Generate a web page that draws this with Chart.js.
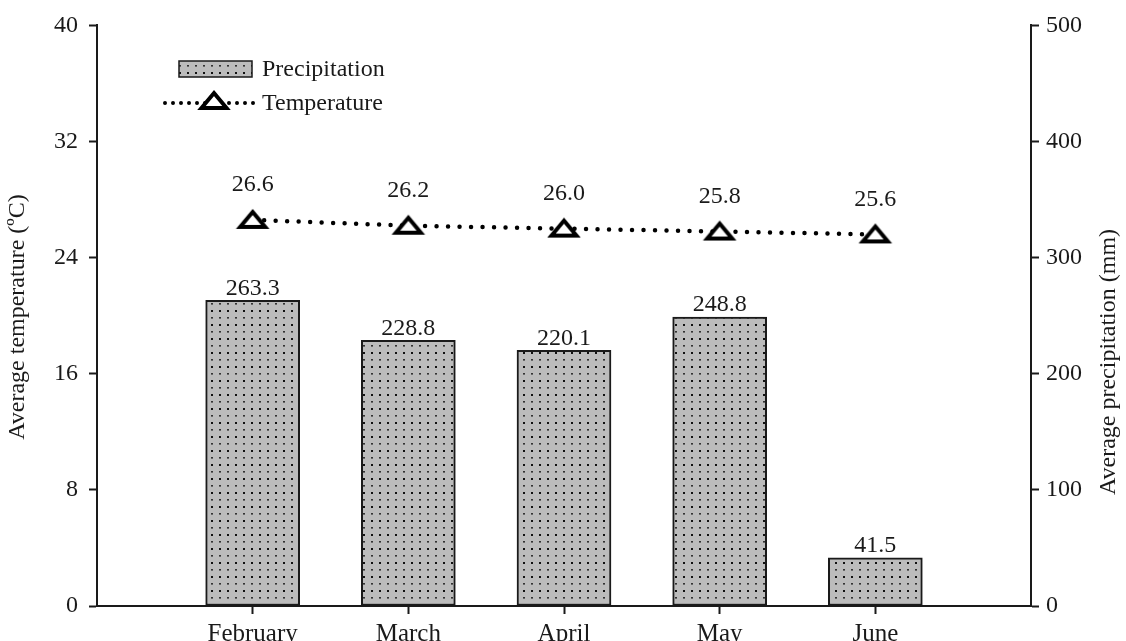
<!DOCTYPE html>
<html>
<head>
<meta charset="utf-8">
<script src="https://cdn.jsdelivr.net/npm/chart.js@4.4.1/dist/chart.umd.min.js"></script>
<style>
  html, body { margin: 0; padding: 0; background: #ffffff; }
  canvas { display: block; }
</style>
</head>
<body>
<canvas id="climate" width="1126" height="641"></canvas>
<script>
// Monthly climate record: empty slots at both ends keep the months off the axes
const months = ['', 'February', 'March', 'April', 'May', 'June', ''];
const precipitation = [null, 263.3, 228.8, 220.1, 248.8, 41.5, null];   // mm
const temperature = [null, 26.6, 26.2, 26.0, 25.8, 25.6, null];         // °C
const temperatureTicks = { min: 0, max: 40, step: 8 };
const precipitationTicks = { min: 0, max: 500, step: 100 };

const FONT = "'Liberation Serif', 'Times New Roman', serif";
const INK = '#1a1a1a';

// Grey fill with a sparse dot screen for the precipitation bars
function dotPattern() {
  const c = document.createElement('canvas');
  c.width = 8; c.height = 14;
  const g = c.getContext('2d');
  g.fillStyle = '#bcbcbc';
  g.fillRect(0, 0, 8, 14);
  g.fillStyle = '#111111';
  g.fillRect(3, 2, 2, 2);
  g.fillStyle = '#333333';
  g.fillRect(3, 9, 2, 1.6);
  return g.createPattern(c, 'repeat');
}

// Open, slightly flattened triangle marker
function triangleMarker() {
  const c = document.createElement('canvas');
  c.width = 36; c.height = 26;
  const g = c.getContext('2d');
  g.beginPath();
  g.moveTo(18, 5);
  g.lineTo(30.5, 20);
  g.lineTo(5.5, 20);
  g.closePath();
  g.fillStyle = '#ffffff';
  g.fill();
  g.lineWidth = 4;
  g.lineJoin = 'miter';
  g.strokeStyle = '#000000';
  g.stroke();
  return c;
}

const barFill = dotPattern();
const marker = triangleMarker();

// Value labels above every bar and point, plus legend and axis titles
const annotate = {
  id: 'annotate',
  afterDatasetsDraw(chart) {
    const ctx = chart.ctx;
    ctx.save();
    ctx.fillStyle = INK;
    ctx.font = '24px ' + FONT;
    ctx.textAlign = 'center';
    ctx.textBaseline = 'middle';

    chart.data.datasets.forEach((ds, i) => {
      const meta = chart.getDatasetMeta(i);
      const lift = ds.type === 'line' ? 35 : 12;
      meta.data.forEach((el, j) => {
        const v = ds.data[j];
        if (v === null || v === undefined) return;
        ctx.fillText(v.toFixed(1), el.x, el.y - lift);
      });
    });

    // legend
    ctx.textAlign = 'left';
    ctx.fillStyle = barFill;
    ctx.fillRect(179, 61, 73, 16);
    ctx.lineWidth = 1.5;
    ctx.strokeStyle = INK;
    ctx.strokeRect(179, 61, 73, 16);
    ctx.fillStyle = INK;
    ctx.fillText('Precipitation', 262, 70);

    ctx.beginPath();
    ctx.setLineDash([0, 8]);
    ctx.lineCap = 'round';
    ctx.lineWidth = 4;
    ctx.strokeStyle = '#000';
    ctx.moveTo(165, 103);
    ctx.lineTo(259, 103);
    ctx.stroke();
    ctx.setLineDash([]);
    ctx.drawImage(marker, 214 - marker.width / 2, 101 - marker.height / 2);
    ctx.fillText('Temperature', 262, 104);

    // axis titles
    ctx.textAlign = 'center';
    ctx.save();
    ctx.translate(18, 317);
    ctx.rotate(-Math.PI / 2);
    ctx.fillText('Average temperature (ºC)', 0, 0);
    ctx.restore();
    ctx.save();
    ctx.translate(1109, 362);
    ctx.rotate(-Math.PI / 2);
    ctx.fillText('Average precipitation (mm)', 0, 0);
    ctx.restore();

    ctx.restore();
  }
};

const tickFont = { family: FONT, size: 24 };
const axisBorder = { color: INK, width: 2 };

new Chart(document.getElementById('climate'), {
  data: {
    labels: months,
    datasets: [
      {
        type: 'line',
        label: 'Temperature',
        data: temperature,
        yAxisID: 'yTemp',
        order: 0,
        borderColor: '#000000',
        borderWidth: 4.5,
        borderDash: [0, 11.5],
        borderCapStyle: 'round',
        fill: false,
        tension: 0,
        pointStyle: marker,
        pointRadius: 14,
        pointHoverRadius: 14
      },
      {
        type: 'bar',
        label: 'Precipitation',
        data: precipitation,
        yAxisID: 'yPrec',
        order: 1,
        backgroundColor: barFill,
        borderColor: INK,
        borderWidth: 2,
        borderSkipped: false,
        barThickness: 94
      }
    ]
  },
  options: {
    responsive: false,
    animation: false,
    devicePixelRatio: 1,
    layout: { padding: { top: 23, right: 0, bottom: 0, left: 0 } },
    plugins: {
      legend: { display: false },
      tooltip: { enabled: false }
    },
    scales: {
      x: {
        type: 'category',
        offset: false,
        border: axisBorder,
        grid: {
          offset: false,
          drawOnChartArea: false,
          drawTicks: true,
          tickLength: 8,
          tickWidth: 2,
          tickColor: (c) => (c.index === 0 || c.index === months.length - 1) ? 'rgba(0,0,0,0)' : INK
        },
        ticks: { color: INK, font: { family: FONT, size: 25 }, padding: 5, maxRotation: 0, autoSkip: false },
        afterFit(s) { s.height = 35; }
      },
      yTemp: {
        type: 'linear',
        position: 'left',
        min: temperatureTicks.min,
        max: temperatureTicks.max,
        border: axisBorder,
        grid: { drawOnChartArea: false, drawTicks: true, tickLength: 8, tickWidth: 2, tickColor: INK },
        ticks: { stepSize: temperatureTicks.step, color: INK, font: tickFont, padding: 11 },
        afterFit(s) { s.width = 97; }
      },
      yPrec: {
        type: 'linear',
        position: 'right',
        min: precipitationTicks.min,
        max: precipitationTicks.max,
        border: axisBorder,
        grid: { drawOnChartArea: false, drawTicks: true, tickLength: 8, tickWidth: 2, tickColor: INK },
        ticks: { stepSize: precipitationTicks.step, color: INK, font: tickFont, padding: 7 },
        afterFit(s) { s.width = 95; }
      }
    }
  },
  plugins: [annotate]
});
</script>
</body>
</html>
